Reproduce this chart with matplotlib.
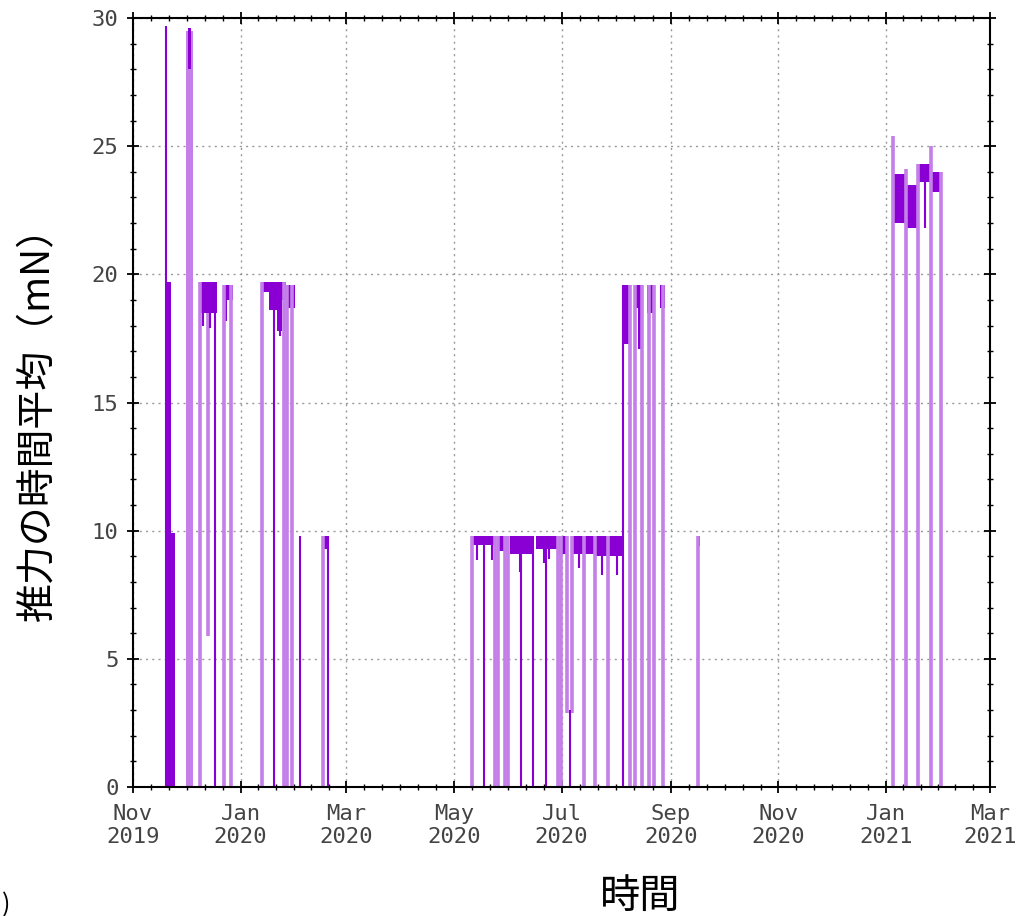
import numpy as np
import matplotlib
matplotlib.use('Agg')
from matplotlib import pyplot as plt
import matplotlib.dates as mdates

DARK = '#8a00d4'
LIGHT = '#c47fe8'

# dense parts of the record, drawn as filled bands (start, end, low, high, shade)
band_start = ['2019-11-19T05', '2019-11-22T16', '2019-12-01T05', '2019-12-02T08',
              '2019-12-08T19', '2019-12-22T11', '2019-12-24T13',
              '2020-01-12T22', '2020-01-17T02', '2020-01-21T21', '2020-01-24T18',
              '2020-01-27T14', '2020-02-17T07',
              '2020-05-11T00', '2020-05-25T19', '2020-06-01T12', '2020-06-16T12',
              '2020-06-29T10', '2020-07-07T14', '2020-07-20T17',
              '2020-08-04T22', '2020-08-11T17', '2020-08-13T12', '2020-08-18T07',
              '2020-08-25T17', '2020-09-15T17',
              '2021-01-05T07', '2021-01-12T22', '2021-01-19T14', '2021-01-26T07']
band_end = ['2019-11-22T16', '2019-11-24T22', '2019-12-05T00', '2019-12-04T01',
            '2019-12-18T17', '2019-12-24T13', '2019-12-27T19',
            '2020-01-17T02', '2020-01-21T21', '2020-01-24T18', '2020-01-26T14',
            '2020-01-31T18', '2020-02-19T12',
            '2020-05-24T07', '2020-05-31T00', '2020-06-15T05', '2020-06-28T12',
            '2020-07-04T05', '2020-07-19T10', '2020-08-04T12',
            '2020-08-08T17', '2020-08-13T12', '2020-08-15T22', '2020-08-22T00',
            '2020-08-28T19', '2020-09-17T10',
            '2021-01-12T00', '2021-01-18T14', '2021-01-26T07', '2021-02-01T00']
band_low = [0, 0, 0, 28.0,
            18.5, 18.2, 19.0,
            19.3, 18.6, 17.8, 19.0,
            18.7, 9.3,
            9.45, 9.2, 9.1, 9.3,
            9.1, 9.1, 9.0,
            17.3, 18.7, 17.1, 18.5,
            18.7, 9.4,
            22.0, 21.8, 23.6, 23.2]
band_high = [19.7, 9.9, 29.5, 29.6,
             19.7, 19.6, 19.6,
             19.7, 19.7, 19.7, 19.7,
             19.6, 9.8,
             9.8, 9.8, 9.8, 9.8,
             9.8, 9.8, 9.8,
             19.6, 19.6, 19.6, 19.6,
             19.6, 9.8,
             23.9, 23.5, 24.3, 24.0]
band_shade = ['d', 'd', 'l', 'd',
              'd', 'd', 'd',
              'd', 'd', 'd', 'd',
              'd', 'd',
              'd', 'd', 'd', 'd',
              'd', 'd', 'd',
              'd', 'd', 'd', 'd',
              'd', 'd',
              'd', 'd', 'd', 'd']

# vertical strokes where the thrust drops or spikes (time, low, high, shade)
drop_time = ['2019-11-19T15', '2019-12-09T04', '2019-12-13T07', '2019-12-17T07',
             '2019-12-22T20', '2019-12-26T16', '2020-01-12T22', '2020-01-19T23',
             '2020-01-25T15', '2020-01-27T14', '2020-01-30T10', '2020-02-03T18',
             '2020-02-16T17', '2020-02-19T10',
             '2019-12-10T21', '2019-12-14T21', '2020-01-23T12',
             '2020-05-11T10', '2020-05-18T07', '2020-05-24T07', '2020-05-25T19',
             '2020-05-30T02', '2020-05-31T19', '2020-06-08T02', '2020-06-14T19',
             '2020-06-22T05', '2020-06-29T00', '2020-06-30T22', '2020-07-04T05',
             '2020-07-06T19', '2020-07-05T22', '2020-07-13T17', '2020-07-19T22',
             '2020-07-27T12', '2020-08-05T01',
             '2020-05-13T22', '2020-05-22T10', '2020-06-07T12', '2020-06-20T22',
             '2020-06-24T02', '2020-07-10T19', '2020-07-24T02', '2020-08-01T17',
             '2020-08-09T02', '2020-08-11T10', '2020-08-15T12', '2020-08-19T17',
             '2020-08-22T04', '2020-08-27T07', '2020-09-16T05',
             '2021-01-04T22', '2021-01-12T12', '2021-01-19T05', '2021-01-26T07',
             '2021-02-01T00', '2021-01-23T00']
drop_low = [0, 0, 5.9, 0,
            0, 0, 0, 0,
            0, 0, 0, 0,
            0, 0,
            18.0, 17.9, 17.6,
            0, 0, 0, 0,
            0, 0, 0, 0,
            0, 0, 0, 2.9,
            2.9, 0, 0, 0,
            0, 0,
            8.86, 8.86, 8.4, 8.74,
            8.9, 8.54, 8.28, 8.28,
            0, 0, 0, 0,
            0, 0, 0,
            0, 0, 0, 0,
            0, 21.8]
drop_high = [29.7, 19.7, 18.5, 19.7,
             19.6, 19.6, 19.7, 19.7,
             19.7, 19.6, 19.6, 9.8,
             9.8, 9.8,
             18.6, 18.6, 18.6,
             9.8, 9.8, 9.8, 9.8,
             9.8, 9.8, 9.8, 9.8,
             9.8, 9.8, 9.8, 9.8,
             9.8, 3.0, 9.8, 9.8,
             9.8, 19.6,
             9.5, 9.5, 9.2, 9.3,
             9.3, 9.1, 9.0, 9.0,
             19.6, 19.6, 19.6, 19.6,
             19.6, 19.6, 9.8,
             25.4, 24.1, 24.3, 25.0,
             24.0, 23.6]
drop_shade = ['d', 'l', 'l', 'd',
              'l', 'l', 'l', 'd',
              'l', 'l', 'l', 'd',
              'l', 'd',
              'd', 'd', 'd',
              'l', 'd', 'l', 'l',
              'l', 'l', 'd', 'd',
              'd', 'l', 'l', 'l',
              'l', 'd', 'l', 'l',
              'l', 'd',
              'd', 'd', 'd', 'd',
              'd', 'd', 'd', 'd',
              'l', 'l', 'l', 'l',
              'l', 'l', 'l',
              'l', 'l', 'l', 'l',
              'l', 'd']

month_ticks = ['2019-11-01', '2020-01-01', '2020-03-01', '2020-05-01', '2020-07-01',
               '2020-09-01', '2020-11-01', '2021-01-01', '2021-03-01']
month_labels = ['Nov\n2019', 'Jan\n2020', 'Mar\n2020', 'May\n2020', 'Jul\n2020',
                'Sep\n2020', 'Nov\n2020', 'Jan\n2021', 'Mar\n2021']
y_ticks = [0, 5, 10, 15, 20, 25, 30]

band_start = np.array(band_start, dtype='datetime64[h]')
band_end = np.array(band_end, dtype='datetime64[h]')
drop_time = np.array(drop_time, dtype='datetime64[h]')
month_ticks = np.array(month_ticks, dtype='datetime64[D]')

fig = plt.figure(figsize=(10.33, 9.16), dpi=100)
ax = fig.add_axes([0.1288, 0.1408, 0.8296, 0.8395])

# light strokes first, dark ones on top
for shade, color, lw in [('l', LIGHT, 2.6), ('d', DARK, 1.5)]:
    for s, e, lo, hi, sh in zip(band_start, band_end, band_low, band_high, band_shade):
        if sh == shade:
            ax.fill_between([s, e], lo, hi, color=color, linewidth=0)
    idx = [i for i, sh in enumerate(drop_shade) if sh == shade]
    ax.vlines(drop_time[idx], np.array(drop_low)[idx], np.array(drop_high)[idx],
              colors=color, linewidth=lw)

ax.set_xlim(month_ticks[0], month_ticks[-1])
ax.set_ylim(0, 30)

ax.set_xticks(month_ticks)
ax.set_xticklabels(month_labels, family='DejaVu Sans Mono', fontsize=16,
                   color='#444444', linespacing=1.15)
major_num = mdates.date2num(month_ticks)
minor_num = []
for a, b in zip(major_num[:-1], major_num[1:]):
    minor_num.extend(np.linspace(a, b, 7)[1:-1])
ax.set_xticks(minor_num, minor=True)

ax.set_yticks(y_ticks)
ax.set_yticklabels([str(v) for v in y_ticks], family='DejaVu Sans Mono', fontsize=16,
                   color='#444444')
ax.set_yticks(np.arange(0, 31, 1), minor=True)

ax.tick_params(axis='both', which='major', direction='inout', length=9, width=1.3,
               top=True, right=True)
ax.tick_params(axis='both', which='minor', direction='inout', length=5, width=1.0,
               top=True, right=True)
ax.tick_params(axis='x', which='major', pad=8)
ax.tick_params(axis='y', which='major', pad=6)

ax.grid(True, which='major', color='#9a9a9a', linestyle=(0, (1.5, 3)), linewidth=1.0)
ax.set_axisbelow(True)
for sp in ax.spines.values():
    sp.set_linewidth(1.5)
    sp.set_color('black')

fig.text(0.037, 0.548, '推力の時間平均（mN）', rotation=90, ha='center', va='center',
         fontsize=28, family=['Noto Sans CJK JP', 'DejaVu Sans'])
fig.text(0.62, 0.021, '時間', ha='center', va='center', fontsize=29,
         family=['Noto Sans CJK JP', 'DejaVu Sans'])
fig.text(0.002, 0.012, ')', ha='left', va='center', fontsize=18,
         family=['Noto Sans CJK JP', 'DejaVu Sans'])

fig.savefig('out.png', dpi=100)
